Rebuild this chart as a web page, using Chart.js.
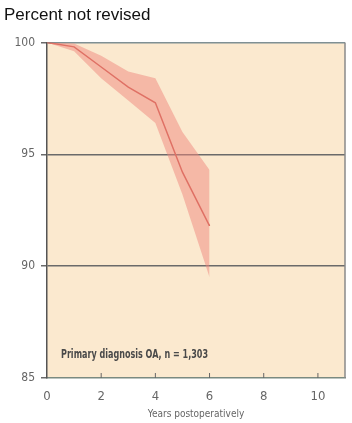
<!DOCTYPE html>
<html>
<head>
<meta charset="utf-8">
<script src="https://cdn.jsdelivr.net/npm/chart.js@4/dist/chart.umd.min.js"></script>
<style>
  html, body { margin: 0; padding: 0; background: #fff; }
  #wrap { width: 352px; height: 423px; }
</style>
</head>
<body>
<div id="wrap"><canvas id="surv"></canvas></div>
<script>
// years postoperatively
var years = [0, 1, 2, 3, 4, 5, 6];
// percent not revised (estimate) and confidence band
var survival = [100, 99.8, 98.9, 98.0, 97.3, 94.2, 91.8];
var upperCI = [100, 99.95, 99.4, 98.7, 98.4, 96.0, 94.3];
var lowerCI = [100, 99.6, 98.4, 97.4, 96.4, 93.2, 89.5];
var yTicks = [85, 90, 95, 100];
var xTicks = [0, 2, 4, 6, 8, 10];
var note = "Primary diagnosis OA, n = 1,303";

var condensed = "'DejaVu Sans Condensed', sans-serif";

function pts(vals) {
	return years.map(function (x, i) { return { x: x, y: vals[i] }; });
}

// cream panel behind the plot, note text, inner tick marks, right border
var panel = {
	id: 'panel',
	beforeDraw: function (chart) {
		var a = chart.chartArea, ctx = chart.ctx;
		ctx.save();
		ctx.fillStyle = '#fbe9cf';
		ctx.fillRect(a.left, a.top, a.right - a.left, a.bottom - a.top);
		ctx.restore();
	},
	afterDraw: function (chart) {
		var a = chart.chartArea, ctx = chart.ctx;
		var xs = chart.scales.x, ys = chart.scales.y;
		ctx.save();
		ctx.strokeStyle = '#8a8a8a';
		ctx.lineWidth = 1.5;
		ctx.beginPath();
		ctx.moveTo(a.right, a.top);
		ctx.lineTo(a.right, a.bottom);
		ctx.stroke();
		ctx.strokeStyle = '#666';
		ctx.lineWidth = 1;
		xTicks.forEach(function (v) {
			if (v === 0) return;
			var px = xs.getPixelForValue(v);
			ctx.beginPath();
			ctx.moveTo(px, a.bottom);
			ctx.lineTo(px, a.bottom - 5);
			ctx.stroke();
		});
		ctx.fillStyle = '#4a4a4a';
		ctx.font = "bold 12px " + condensed;
		ctx.textBaseline = 'middle';
		ctx.fillText(note, xs.getPixelForValue(0) + 14, ys.getPixelForValue(85) - 23, 147);
		ctx.restore();
	}
};

new Chart(document.getElementById("surv"), {
	type: 'line',
	data: {
		datasets: [
		{
			label: "upper",
			data: pts(upperCI),
			borderWidth: 0,
			pointRadius: 0,
			backgroundColor: 'rgba(240, 135, 125, 0.5)',
			fill: '+1'
		}, {
			label: "lower",
			data: pts(lowerCI),
			borderWidth: 0,
			pointRadius: 0,
			fill: false
		}, {
			label: "Percent not revised",
			data: pts(survival),
			borderColor: '#cf5a4c',
			borderWidth: 1.5,
			pointRadius: 0,
			fill: false
		}
		]
	},
	options: {
		responsive: true,
		maintainAspectRatio: false,
		animation: false,
		layout: { padding: { left: 4, right: 7, top: 0, bottom: 0 } },
		plugins: {
			legend: { display: false },
			tooltip: { enabled: false },
			title: {
				display: true,
				text: 'Percent not revised',
				align: 'start',
				color: '#111',
				font: { family: "'Liberation Sans', Arial, sans-serif", size: 17, weight: 'normal' },
				padding: { top: 5, bottom: 17 }
			}
		},
		scales: {
			x: {
				type: 'linear',
				min: 0,
				max: 11,
				afterBuildTicks: function (s) {
					s.ticks = xTicks.map(function (v) { return { value: v }; });
				},
				afterFit: function (s) { s.height = 45; },
				grid: { display: false },
				border: { display: true, color: '#7a8a80', width: 1.5 },
				ticks: {
					color: '#666',
					padding: 3,
					font: { family: condensed, size: 13 }
				},
				title: {
					display: true,
					text: 'Years postoperatively',
					color: '#666',
					font: { family: condensed, size: 10 },
					padding: { top: 0, bottom: 3 }
				}
			},
			y: {
				min: 85,
				max: 100,
				afterBuildTicks: function (s) {
					s.ticks = yTicks.map(function (v) { return { value: v }; });
				},
				afterFit: function (s) { s.width = 43; },
				border: { display: true, color: '#555', width: 1.5 },
				grid: {
					color: function (c) {
						if (c.tick.value === 100) return '#7f9094';
						if (c.tick.value === 85) return 'transparent';
						return '#6a6a6a';
					},
					lineWidth: 1.5,
					tickLength: 6,
					tickColor: '#6a6a6a'
				},
				ticks: {
					color: '#666',
					padding: 6,
					font: { family: condensed, size: 12 }
				}
			}
		}
	},
	plugins: [panel]
});
</script>
</body>
</html>
